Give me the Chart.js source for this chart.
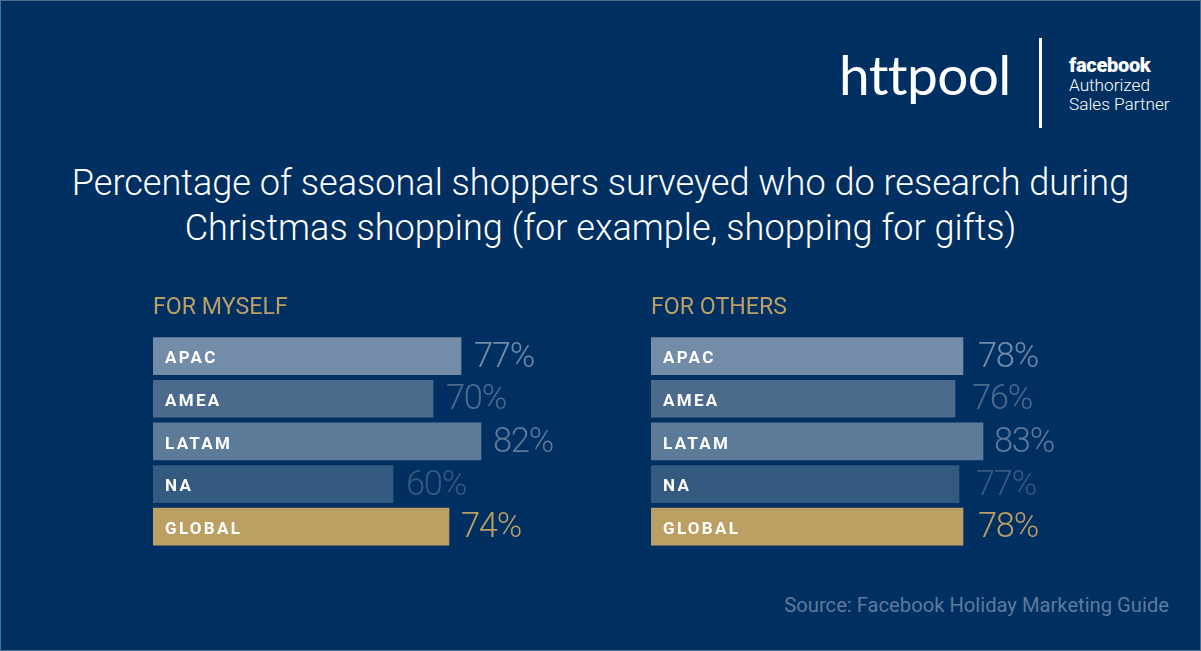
<!DOCTYPE html>
<html>
<head>
<meta charset="utf-8">
<script src="https://cdn.jsdelivr.net/npm/chart.js@4"></script>
<style>
  html, body { margin: 0; padding: 0; background: #002f62; }
  #page { position: relative; width: 1201px; height: 651px; overflow: hidden; background: #002f62; font-family: Roboto, sans-serif; color: #fff; box-shadow: inset 0 0 0 1px #4f6d8f; }
  #page div, #page canvas { position: absolute; }
  #titulo { left: 0; width: 1201px; top: 161px; text-align: center; font-size: 36.1px; font-weight: 300; line-height: 45px; }
  #fuente { right: 32px; top: 593px; font-size: 20.2px; color: #5f7a99; }
  #marca { left: 839px; top: 41px; font-family: Lato, sans-serif; font-size: 55px; font-weight: 400; letter-spacing: -0.6px; }
  #linea { left: 1039px; top: 38px; width: 3px; height: 90px; background: #fff; }
  #fb { left: 1069px; top: 53px; font-size: 20px; font-weight: 900; letter-spacing: -0.3px; }
  #socio { left: 1069px; top: 76px; font-size: 17.2px; font-weight: 300; line-height: 19px; }
</style>
</head>
<body>
<div id="page">
  <div id="marca">httpool</div>
  <div id="linea"></div>
  <div id="fb">facebook</div>
  <div id="socio">Authorized<br>Sales Partner</div>
  <div id="titulo">Percentage of seasonal shoppers surveyed who do research during<br>Christmas shopping (for example, shopping for gifts)</div>
  <canvas id="graficaMyself" width="440" height="254" style="left:153px;top:294px"></canvas>
  <canvas id="graficaOthers" width="440" height="254" style="left:651px;top:294px"></canvas>
  <div id="fuente">Source: Facebook Holiday Marketing Guide</div>
</div>
<script>
const regiones = ['APAC', 'AMEA', 'LATAM', 'NA', 'GLOBAL'];
const paraMi = [77, 70, 82, 60, 74];
const paraOtros = [78, 76, 83, 77, 78];
const colores = ['#738ca8', '#4c6a8c', '#5d7a99', '#345a80', '#bc9f63'];

// textos dentro de la barra y porcentaje al final
const etiquetas = {
  id: 'etiquetas',
  afterDatasetsDraw(chart, args, opts) {
    const ctx = chart.ctx;
    const barras = chart.getDatasetMeta(0).data;
    ctx.save();
    ctx.textBaseline = 'middle';
    barras.forEach((barra, i) => {
      ctx.letterSpacing = '2.3px';
      ctx.font = '700 17px Roboto';
      ctx.fillStyle = '#ffffff';
      ctx.fillText(chart.data.labels[i], barra.base + 12, barra.y + 3);
      ctx.letterSpacing = '-1.3px';
      ctx.font = '300 34.5px Roboto';
      ctx.fillStyle = colores[i];
      ctx.fillText(chart.data.datasets[0].data[i] + '%', barra.x + opts.separacion[i], barra.y + 2);
    });
    ctx.restore();
  }
};

function crearGrafica(id, titulo, valores, separacion) {
  return new Chart(document.getElementById(id), {
    type: 'bar',
    data: {
      labels: regiones,
      datasets: [{ data: valores, backgroundColor: colores, barThickness: 37 }]
    },
    options: {
      indexAxis: 'y',
      responsive: false,
      animation: false,
      layout: { padding: 0 },
      scales: {
        x: { display: false, min: 0, max: 110 },
        y: { display: false }
      },
      plugins: {
        legend: { display: false },
        tooltip: { enabled: false },
        title: {
          display: true,
          text: titulo,
          align: 'start',
          color: '#bc9f63',
          font: { family: 'Roboto', size: 23.2, weight: '400', lineHeight: 1.2 },
          padding: { top: 0, bottom: 13 }
        },
        etiquetas: { separacion: separacion }
      }
    },
    plugins: [etiquetas]
  });
}

crearGrafica('graficaMyself', 'FOR MYSELF', paraMi, [13, 13, 12, 13, 12]);
crearGrafica('graficaOthers', 'FOR OTHERS', paraOtros, [15, 17, 11, 17, 15]);
</script>
</body>
</html>
